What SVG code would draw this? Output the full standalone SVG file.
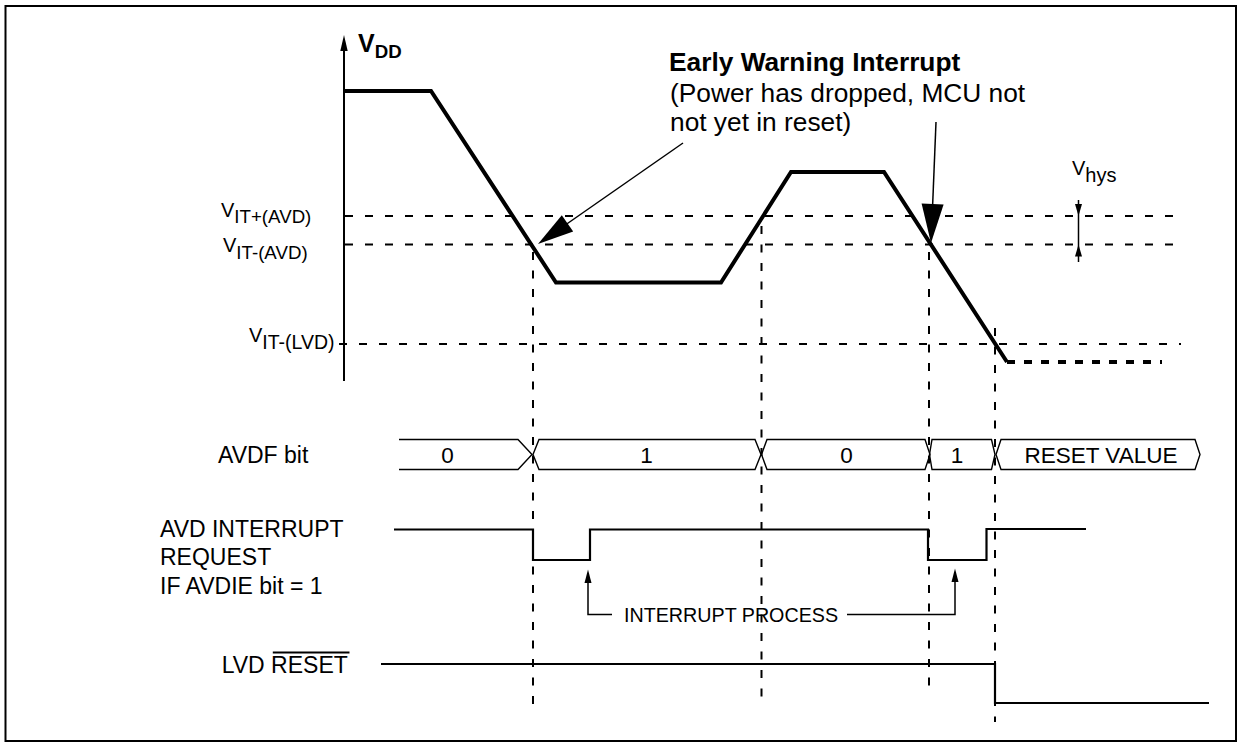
<svg xmlns="http://www.w3.org/2000/svg" width="1243" height="747" viewBox="0 0 1243 747">
<style>
text{font-family:"Liberation Sans",Arial,Helvetica,sans-serif;fill:#000}
.lbl{font-size:23px}
.bus{font-size:22.5px;text-anchor:middle}
.wave{fill:none;stroke:#000;stroke-width:4;stroke-linejoin:miter}
.hd{fill:none;stroke:#000;stroke-width:1.8;stroke-dasharray:8 12}
.vd{fill:none;stroke:#000;stroke-width:2;stroke-dasharray:8 10.5}
.sig{fill:none;stroke:#000;stroke-width:2.2}
.busl{fill:none;stroke:#000;stroke-width:1.4}
.thin{fill:none;stroke:#000;stroke-width:1.5}
</style>
<rect x="5.5" y="6" width="1230.5" height="735" fill="#fff" stroke="#000" stroke-width="2"/>

<g id="axis">
<line x1="344" y1="48" x2="344" y2="381" stroke="#000" stroke-width="2"/>
<polygon points="344,35 340.3,51 347.7,51" fill="#000"/>
<text x="358" y="52" font-weight="bold" font-size="25">V<tspan font-size="18.7" dy="6.3">DD</tspan></text>
</g>

<g id="thresholds">
<path class="hd" d="M345,216 H1176"/>
<path class="hd" d="M345,244.5 H1176"/>
<path class="hd" d="M339,344 H1181"/>
<text x="221" y="217" font-size="20">V<tspan font-size="18.7" dy="6">IT+(AVD)</tspan></text>
<text x="223" y="252" font-size="20">V<tspan font-size="18.7" dy="7">IT-(AVD)</tspan></text>
<text x="249" y="342" font-size="20">V<tspan font-size="19.5" dy="7">IT-(LVD)</tspan></text>
</g>

<g id="hysteresis">
<text x="1072" y="175" font-size="20">V<tspan font-size="20" dy="6.5">hys</tspan></text>
<line x1="1078.5" y1="200" x2="1078.5" y2="262" stroke="#000" stroke-width="1.5"/>
<polygon points="1075,204 1082,204 1078.5,216" fill="#000"/>
<polygon points="1078.5,244.5 1075,256.5 1082,256.5" fill="#000"/>
</g>

<g id="vdd-waveform">
<path class="wave" d="M344,91 L431,91 L556,282.5 L721,282.5 L791,172 L884,172 L1007,362"/>
<path d="M1007,362 H1162" fill="none" stroke="#000" stroke-width="4" stroke-dasharray="8 9"/>
</g>

<g id="annotation">
<text x="669" y="71" font-weight="bold" font-size="26.3">Early Warning Interrupt</text>
<text x="670" y="101.5" font-size="26.3">(Power has dropped, MCU not</text>
<text x="670" y="130.5" font-size="26.3">not yet in reset)</text>
</g>

<g id="connectors">
<line x1="683" y1="143" x2="566" y2="224.5" stroke="#000" stroke-width="1.5"/>
<polygon points="538,244 573.2,231.6 561.8,215.2" fill="#000"/>
<line x1="936" y1="122" x2="932.6" y2="206" stroke="#000" stroke-width="1.5"/>
<polygon points="931,243 943.6,204.5 921.6,203.5" fill="#000"/>
<path class="thin" d="M588,582 V614.5 H612" stroke-width="2"/>
<polygon points="588,569.5 584.5,583 591.5,583" fill="#000"/>
<path class="thin" d="M847,614.5 H955 V581" stroke-width="2"/>
<polygon points="955,568.5 951.5,582 958.5,582" fill="#000"/>
</g>

<g id="markers">
<path class="vd" d="M533,252 V712"/>
<path class="vd" d="M761.5,226 V704"/>
<path class="vd" d="M929,252 V690"/>
<path class="vd" d="M995,328 V722"/>
</g>

<g id="avdf-bit">
<text class="lbl" x="218" y="463" font-size="22.5">AVDF bit</text>
<path class="busl" d="M399,439.5 H518 L532,454.5 L518,469.5 H399"/>
<path class="busl" d="M755,439.5 H539 L533,454.5 L539,469.5 H755 L761,454.5 Z"/>
<path class="busl" d="M925,439.5 H767 L761.5,454.5 L767,469.5 H925 L930,454.5 Z"/>
<path class="busl" d="M991.5,439.5 H932 L929.5,454.5 L932,469.5 H991.5 L995,454.5 Z"/>
<path class="busl" d="M1195,439.5 H1001 L996,454.5 L1001,469.5 H1195 L1200,454.5 Z"/>
<text class="bus" x="447.5" y="463">0</text>
<text class="bus" x="646.5" y="463">1</text>
<text class="bus" x="846.5" y="463">0</text>
<text class="bus" x="957" y="463">1</text>
<text class="bus" x="1101" y="463">RESET VALUE</text>
</g>

<g id="avd-interrupt-request">
<text class="lbl" x="160" y="537">AVD INTERRUPT</text>
<text class="lbl" x="160" y="565">REQUEST</text>
<text class="lbl" x="160" y="594">IF AVDIE bit = 1</text>
<path class="sig" d="M394,529.5 H533 V560 H590 V529.5 H928 V560 H986.5 V529 H1086"/>
<text x="624" y="622" font-size="19.7">INTERRUPT PROCESS</text>
</g>

<g id="lvd-reset">
<text class="lbl" x="221.7" y="673">LVD RESET</text>
<line x1="272.8" y1="652.5" x2="349.5" y2="652.5" stroke="#000" stroke-width="2"/>
<path class="sig" d="M381,664 H995 V703 H1209"/>
</g>
</svg>
